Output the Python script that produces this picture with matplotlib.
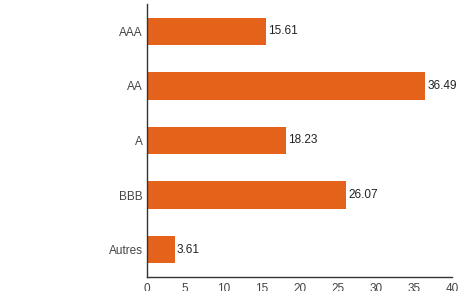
import matplotlib
matplotlib.use("Agg")
import matplotlib.pyplot as plt

categories = ["AAA", "AA", "A", "BBB", "Autres"]
values = [15.61, 36.49, 18.23, 26.07, 3.61]
xticks = [0, 5, 10, 15, 20, 25, 30, 35, 40]

plt.rcParams['font.family'] = ['Liberation Sans', 'DejaVu Sans']
fig = plt.figure(figsize=(4.58, 2.91), dpi=100)
ax = fig.add_axes([147/458, 1-277/291, (452-147)/458, (277-4)/291])
y = list(range(len(categories)))
ax.barh(y, values, height=0.5, color='#E5621A')
for yi, v in zip(y, values):
    ax.text(v + 0.3, yi, f"{v:.2f}", va='center', ha='left', fontsize=8.5, color='#222222')
ax.set_yticks(y)
ax.set_yticklabels(categories)
ax.set_ylim(len(categories) - 0.5, -0.5)
ax.set_xlim(0, 40)
ax.set_xticks(xticks)
ax.tick_params(length=0, labelsize=8.5, colors='#444444')
ax.tick_params(axis='y', pad=3)
ax.tick_params(axis='x', pad=4)
for s in ['top', 'right']:
    ax.spines[s].set_visible(False)
for s in ['left', 'bottom']:
    ax.spines[s].set_color('#333333')
    ax.spines[s].set_linewidth(1)
fig.savefig("out.png", dpi=100)
